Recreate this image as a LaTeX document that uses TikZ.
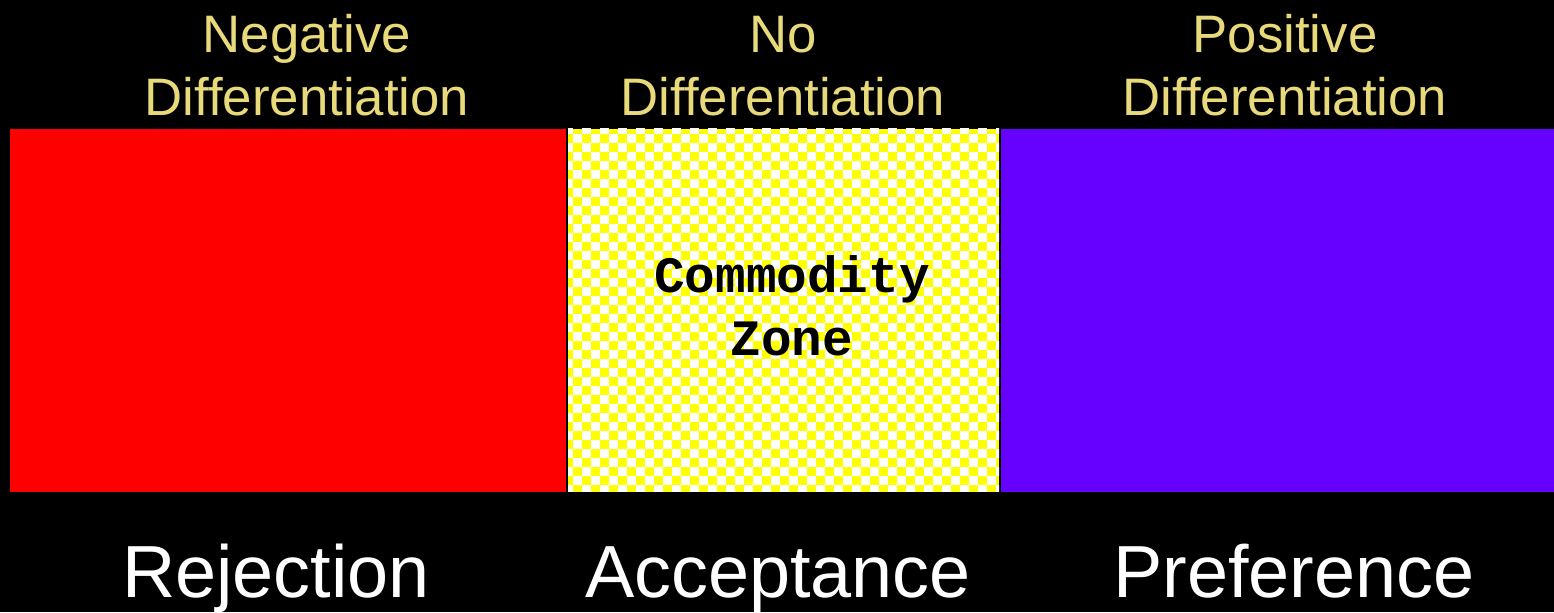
\documentclass[tikz,border=0pt]{standalone}
\usepackage{fontspec}
\setmainfont{Liberation Sans}
\newfontfamily\zonefont{Liberation Mono}
\usetikzlibrary{positioning}
\definecolor{rejred}{RGB}{255,0,0}
\definecolor{prefviolet}{RGB}{102,0,255}
\definecolor{checkyellow}{RGB}{255,255,0}
\definecolor{headgold}{RGB}{232,217,122}

\begin{document}
\begin{tikzpicture}[
  x=0.01cm,y=-0.01cm,
  head/.style={font=\fontsize{15}{17.9}\selectfont,text=headgold,align=center,
               inner sep=0pt,anchor=south},
  verdict/.style={font=\fontsize{21}{25}\selectfont,text=white,inner sep=0pt,anchor=base},
  zonelabel/.style={font=\zonefont\bfseries\fontsize{14.5}{17.9}\selectfont,
                    text=black,align=center,inner sep=0pt},
]
  % Background
  \fill[black] (0,0) rectangle (1554,612);

  % Rejection zone
  \fill[rejred] (10,129) rectangle (566,492);

  % Commodity zone (checkerboard)
  \begin{scope}
    \clip (568,129) rectangle (999,492);
    \fill[checkyellow] (568,129) rectangle (999,492);
    \foreach \i in {0,...,48}{
      \foreach \j in {0,...,40}{
        \pgfmathtruncatemacro\k{\i+\j}
        \ifodd\k\else
          \fill[white] (564+9*\i,125+9*\j) rectangle ++(9,9);
        \fi
      }
    }
  \end{scope}

  % Preference zone
  \fill[prefviolet] (1001,129) rectangle (1554,492);

  % Headings
  \node[head] (neg) at (307,117) {Negative\\Differentiation};
  \node[head] (none) at (783,117) {No\\Differentiation};
  \node[head] (pos) at (1285,117) {Positive\\Differentiation};

  % Zone label
  \node[zonelabel] (commodity) at (792,306) {Commodity\\Zone};

  % Verdicts
  \node[verdict] (reject) at (276,597) {Rejection};
  \node[verdict] (accept) at (778,597) {Acceptance};
  \node[verdict] (prefer) at (1294,597) {Preference};
\end{tikzpicture}
\end{document}
